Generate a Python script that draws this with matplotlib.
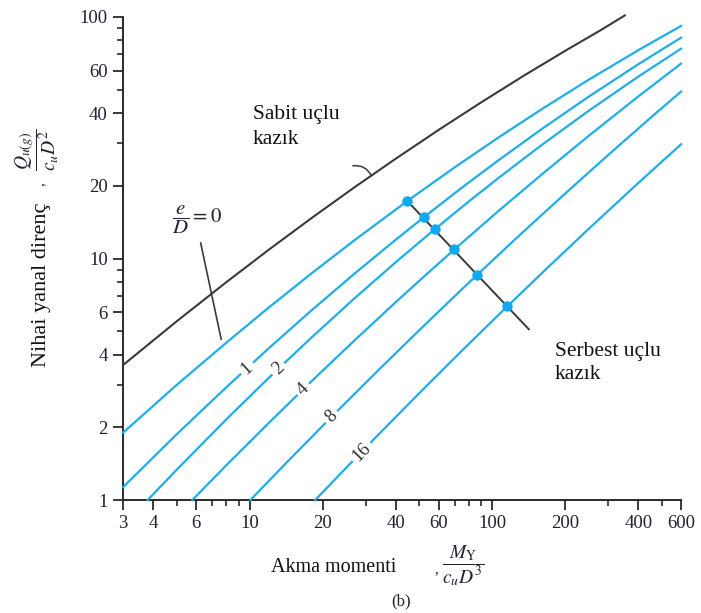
import numpy as np
import matplotlib
matplotlib.use("Agg")
import matplotlib.pyplot as plt

plt.rcParams['font.family'] = ['Liberation Serif', 'DejaVu Serif']
plt.rcParams['mathtext.fontset'] = 'stix'

# Fixed-head pile (black) curve
fixed_x = [3, 5, 8, 12, 18, 27, 40, 60, 90, 135, 200, 280, 352]
fixed_y = [3.62, 5.50, 7.98, 10.89, 14.72, 19.71, 25.91, 34.05, 44.32,
           57.18, 72.48, 88.22, 101.5]

# Free-head pile curves for e/D = 0, 1, 2, 4, 8, 16
ratios = ["0", "1", "2", "4", "8", "16"]
free_x = [
    [3, 5, 8, 12, 18, 27, 44.6, 70, 106.5, 160, 250, 400, 600],
    [3, 5, 8, 12, 18, 27, 40, 52.1, 75, 106.5, 160, 250, 400, 600],
    [3.79, 5, 8, 12, 18, 27, 40, 57.8, 80, 106.5, 160, 250, 400, 600],
    [5.79, 8, 12, 18, 27, 40, 55, 69.7, 106.5, 160, 250, 400, 600],
    [10.05, 14, 21.7, 34.3, 50, 70, 86.5, 130, 200, 300, 450, 600],
    [18.6, 25, 34.3, 50, 75, 115.3, 170, 250, 400, 600],
]
free_y = [
    [1.90, 3.00, 4.48, 6.28, 8.69, 11.90, 17.3, 23.86, 31.8, 41.55, 55.03,
     72.88, 91.8],
    [1.13, 1.874, 2.93, 4.26, 6.11, 8.65, 11.97, 14.8, 19.67, 25.6, 34.38,
     46.82, 63.75, 82.1],
    [1.0, 1.337, 2.158, 3.213, 4.718, 6.835, 9.66, 13.2, 17.23, 21.63, 29.54,
     40.93, 56.64, 73.9],
    [1.0, 1.393, 2.090, 3.109, 4.577, 6.60, 8.82, 10.9, 15.79, 22.30, 32.23,
     46.90, 64.1],
    [1.0, 1.411, 2.208, 3.49, 5.05, 6.99, 8.55, 12.53, 18.60, 26.79, 38.30,
     49.1],
    [1.0, 1.362, 1.888, 2.771, 4.157, 6.34, 9.21, 13.28, 20.55, 29.7],
]

# Transition points between short and long pile behaviour
dot_x = [44.6, 52.1, 57.8, 69.7, 86.5, 115.3]
dot_y = [17.3, 14.8, 13.2, 10.9, 8.55, 6.34]

# Boundary line through the transition points
bound_x = [44.6, 141.5]
bound_y = [17.3, 5.09]

# Positions (x) of the inline e/D labels on curves 1..16
label_x = [9.74, 13.1, 16.6, 21.7, 28.9]

x_major = [3, 4, 6, 10, 20, 40, 60, 100, 200, 400, 600]
x_minor = [5, 7, 8, 9, 30, 50, 70, 80, 90, 300, 500]
y_major = [1, 2, 4, 6, 10, 20, 40, 60, 100]
y_minor = [3, 5, 7, 8, 9, 30, 50, 70, 80, 90]

BLUE = '#1eaeea'
DARK = '#3a3a3a'
TXT = '#222233'

fig = plt.figure(figsize=(7.01, 6.13), dpi=100)
ax = fig.add_axes([0.1755, 0.1843, 0.7960, 0.7880])
ax.set_xscale('log')
ax.set_yscale('log')
ax.set_xlim(3, 600)
ax.set_ylim(1, 100)

for s in ['top', 'right']:
    ax.spines[s].set_visible(False)
for s in ['left', 'bottom']:
    ax.spines[s].set_linewidth(1.4)
    ax.spines[s].set_color('#2a2a2a')

ax.set_xticks(x_major)
ax.set_xticklabels([str(v) for v in x_major])
ax.set_xticks(x_minor, minor=True)
ax.set_xticklabels([], minor=True)
ax.set_yticks(y_major)
ax.set_yticklabels([str(v) for v in y_major])
ax.set_yticks(y_minor, minor=True)
ax.set_yticklabels([], minor=True)
ax.tick_params(which='major', length=7, width=1.3, color='#2a2a2a',
               labelsize=13.5, labelcolor=TXT, direction='out', pad=4)
ax.tick_params(which='minor', length=4.5, width=1.2, color='#2a2a2a',
               direction='out')

# curves
ax.plot(fixed_x, fixed_y, color=DARK, lw=1.5, clip_on=False, zorder=3)
for xs, ys in zip(free_x, free_y):
    ax.plot(xs, ys, color=BLUE, lw=1.6, clip_on=False, zorder=3)

ax.plot(bound_x, bound_y, color=DARK, lw=1.4, zorder=4)
ax.plot(dot_x, dot_y, linestyle='none', marker='o', markersize=6.5,
        color='#12a8ee', zorder=5)

# inline e/D labels
for lab, lx, xs, ys in zip(ratios[1:], label_x, free_x[1:], free_y[1:]):
    lxs = np.log10(xs)
    lys = np.log10(ys)
    ly = 10 ** np.interp(np.log10(lx), lxs, lys)
    x2 = lx * 1.15
    y2 = 10 ** np.interp(np.log10(x2), lxs, lys)
    p1 = ax.transData.transform((lx, ly))
    p2 = ax.transData.transform((x2, y2))
    ang = np.degrees(np.arctan2(p2[1] - p1[1], p2[0] - p1[0]))
    ax.text(lx, ly, lab, rotation=ang, rotation_mode='anchor',
            ha='center', va='center', fontsize=13.5, color='#333333',
            zorder=6,
            bbox=dict(boxstyle='square,pad=0.18', fc='white', ec='none'))

# e/D = 0 label and leader
ax.plot([6.27, 7.62], [11.6, 4.63], color=DARK, lw=1.2, zorder=4)
fig.text(197 / 701, 1 - 220 / 613, r'$\dfrac{e}{D} = 0$', fontsize=15,
         ha='center', va='center', color=TXT)

# fixed-head annotation hook
x_end = 31.7
y_end = 10 ** np.interp(np.log10(x_end), np.log10(fixed_x), np.log10(fixed_y))
ax.annotate('', xy=(x_end, y_end), xytext=(26.6, 24.2),
            arrowprops=dict(arrowstyle='-', color=DARK, lw=1.1,
                            connectionstyle='arc3,rad=-0.35',
                            shrinkA=0, shrinkB=0))

fig.text(253 / 701, 1 - 127 / 613, 'Sabit uçlu\nkazık', fontsize=15.5,
         ha='left', va='center', color='#111111', linespacing=1.4)
fig.text(555 / 701, 1 - 363 / 613, 'Serbest uçlu\nkazık', fontsize=15.5,
         ha='left', va='center', color='#111111', linespacing=1.35)

# axis titles
fig.text(42 / 701, 1 - 285 / 613, 'Nihai yanal direnç', fontsize=16,
         rotation=90, ha='center', va='center', color='#111111')
fig.text(40 / 701, 1 - 184 / 613, ',', fontsize=11, rotation=90,
         ha='center', va='center', color=TXT)
fig.text(37 / 701, 1 - 150 / 613, r'$\dfrac{Q_{u(g)}}{c_u D^2}$', fontsize=14,
         rotation=90, ha='center', va='center', color=TXT)

fig.text(334 / 701, 1 - 568 / 613, 'Akma momenti', fontsize=14.5,
         ha='center', va='center', color='#111111')
fig.text(436 / 701, 1 - 570 / 613, ',', fontsize=11,
         ha='center', va='center', color=TXT)
fig.text(463 / 701, 1 - 566 / 613, r'$\dfrac{M_\mathrm{Y}}{c_u D^3}$', fontsize=14,
         ha='center', va='center', color=TXT)
fig.text(401 / 701, 1 - 601 / 613, '(b)', fontsize=12,
         ha='center', va='center', color=TXT)

fig.savefig('out.png', dpi=100)
